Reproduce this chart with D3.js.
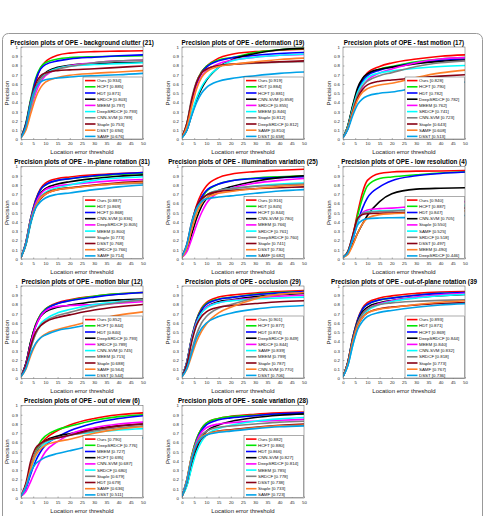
<!DOCTYPE html>
<html lang="en">
<head>
  <meta charset="UTF-8">
  <title>Precision plots of OPE</title>
  <script src="https://d3js.org/d3.v7.min.js"></script>
  <style>
    body { margin: 0; background: #fff; }
    svg text { font-family: "Liberation Sans", Arial, sans-serif; }
    .tick text { font-size: 4.3px; fill: #222; }
    .domain { display: none; }
    .tick line { stroke: #444; stroke-width: 0.4; }
  </style>
</head>
<body>
  <script>
    var thresholds = [0, 2, 4, 6, 8, 10, 15, 20, 30, 40, 50];

    // OTB rank colours
    var rankColors = ["#ff0000", "#00e600", "#0000ff", "#000000", "#ff00ff",
                      "#00ffff", "#808080", "#880015", "#ff7f27", "#00a2e8"];

    var panelTitles = [
      "Precision plots of OPE - background clutter (21)",
      "Precision plots of OPE - deformation (19)",
      "Precision plots of OPE - fast motion (17)",
      "Precision plots of OPE - in-plane rotation (31)",
      "Precision plots of OPE - illumination variation (25)",
      "Precision plots of OPE - low resolution (4)",
      "Precision plots of OPE - motion blur (12)",
      "Precision plots of OPE - occlusion (29)",
      "Precision plots of OPE - out-of-plane rotation (39",
      "Precision plots of OPE - out of view (6)",
      "Precision plots of OPE - scale variation (28)"
    ];

    // background clutter
    var clutterNames = ["Ours", "HCFT", "HDT", "SRDCF", "MEEM", "DeepSRDCF", "CNN-SVM", "Staple", "DSST", "SAMF"];
    var clutterScores = [0.934, 0.885, 0.871, 0.803, 0.797, 0.793, 0.789, 0.753, 0.694, 0.676];
    var clutterCurves = [
      [0.02, 0.16, 0.40, 0.62, 0.77, 0.84, 0.91, 0.934, 0.95, 0.955, 0.96],
      [0.02, 0.18, 0.44, 0.66, 0.78, 0.83, 0.87, 0.885, 0.895, 0.90, 0.905],
      [0.02, 0.17, 0.42, 0.64, 0.76, 0.81, 0.85, 0.871, 0.89, 0.905, 0.915],
      [0.02, 0.14, 0.36, 0.55, 0.66, 0.72, 0.78, 0.803, 0.82, 0.83, 0.835],
      [0.02, 0.12, 0.32, 0.50, 0.62, 0.69, 0.76, 0.797, 0.83, 0.85, 0.86],
      [0.02, 0.13, 0.35, 0.54, 0.65, 0.71, 0.77, 0.793, 0.81, 0.82, 0.83],
      [0.02, 0.14, 0.36, 0.55, 0.65, 0.70, 0.76, 0.789, 0.83, 0.85, 0.86],
      [0.02, 0.16, 0.42, 0.60, 0.69, 0.72, 0.745, 0.753, 0.765, 0.78, 0.795],
      [0.02, 0.10, 0.28, 0.45, 0.56, 0.62, 0.67, 0.694, 0.715, 0.73, 0.745],
      [0.02, 0.14, 0.40, 0.56, 0.62, 0.645, 0.665, 0.676, 0.69, 0.70, 0.715]
    ];

    // deformation
    var deformNames = ["Ours", "HDT", "HCFT", "CNN-SVM", "SRDCF", "MEEM", "Staple", "DeepSRDCF", "SAMF", "DSST"];
    var deformScores = [0.919, 0.884, 0.881, 0.858, 0.855, 0.846, 0.812, 0.812, 0.810, 0.658];
    var deformCurves = [
      [0.02, 0.165, 0.41, 0.61, 0.73, 0.79, 0.88, 0.919, 0.95, 0.965, 0.975],
      [0.02, 0.17, 0.42, 0.62, 0.73, 0.79, 0.86, 0.884, 0.94, 0.97, 0.985],
      [0.02, 0.16, 0.40, 0.60, 0.72, 0.78, 0.85, 0.881, 0.91, 0.93, 0.94],
      [0.02, 0.10, 0.27, 0.43, 0.55, 0.64, 0.78, 0.858, 0.93, 0.97, 0.985],
      [0.02, 0.15, 0.38, 0.57, 0.68, 0.74, 0.82, 0.855, 0.89, 0.91, 0.92],
      [0.02, 0.11, 0.29, 0.45, 0.57, 0.65, 0.78, 0.846, 0.89, 0.91, 0.925],
      [0.03, 0.18, 0.45, 0.63, 0.72, 0.76, 0.80, 0.812, 0.825, 0.835, 0.84],
      [0.03, 0.17, 0.43, 0.62, 0.72, 0.76, 0.80, 0.812, 0.83, 0.84, 0.85],
      [0.02, 0.14, 0.36, 0.55, 0.67, 0.73, 0.79, 0.810, 0.84, 0.865, 0.88],
      [0.02, 0.10, 0.26, 0.40, 0.50, 0.56, 0.63, 0.658, 0.69, 0.715, 0.73]
    ];

    // fast motion
    var fastNames = ["Ours", "HCFT", "HDT", "DeepSRDCF", "MEEM", "SRDCF", "CNN-SVM", "Staple", "SAMF", "DSST"];
    var fastScores = [0.828, 0.790, 0.782, 0.782, 0.762, 0.741, 0.723, 0.643, 0.608, 0.513];
    var fastCurves = [
      [0.02, 0.14, 0.35, 0.53, 0.65, 0.72, 0.79, 0.828, 0.87, 0.90, 0.915],
      [0.02, 0.15, 0.36, 0.54, 0.64, 0.70, 0.76, 0.790, 0.84, 0.87, 0.885],
      [0.02, 0.14, 0.35, 0.53, 0.63, 0.69, 0.75, 0.782, 0.83, 0.855, 0.87],
      [0.02, 0.15, 0.37, 0.56, 0.66, 0.71, 0.76, 0.782, 0.82, 0.845, 0.86],
      [0.02, 0.12, 0.30, 0.46, 0.57, 0.64, 0.72, 0.762, 0.83, 0.87, 0.885],
      [0.02, 0.14, 0.34, 0.51, 0.61, 0.67, 0.72, 0.741, 0.77, 0.79, 0.80],
      [0.02, 0.13, 0.32, 0.48, 0.58, 0.63, 0.69, 0.723, 0.79, 0.83, 0.85],
      [0.02, 0.12, 0.30, 0.45, 0.54, 0.59, 0.63, 0.643, 0.665, 0.685, 0.70],
      [0.02, 0.12, 0.29, 0.43, 0.51, 0.55, 0.59, 0.608, 0.67, 0.72, 0.75],
      [0.02, 0.11, 0.26, 0.38, 0.44, 0.47, 0.50, 0.513, 0.56, 0.60, 0.62]
    ];

    // in-plane rotation
    var inPlaneNames = ["Ours", "HDT", "HCFT", "CNN-SVM", "DeepSRDCF", "MEEM", "Staple", "DSST", "SRDCF", "SAMF"];
    var inPlaneScores = [0.887, 0.869, 0.868, 0.836, 0.805, 0.800, 0.773, 0.768, 0.766, 0.714];
    var inPlaneCurves = [
      [0.02, 0.18, 0.44, 0.64, 0.76, 0.82, 0.87, 0.887, 0.91, 0.925, 0.935],
      [0.02, 0.18, 0.44, 0.63, 0.75, 0.80, 0.85, 0.869, 0.895, 0.915, 0.925],
      [0.02, 0.18, 0.44, 0.63, 0.75, 0.80, 0.85, 0.868, 0.90, 0.92, 0.935],
      [0.02, 0.16, 0.40, 0.59, 0.71, 0.76, 0.81, 0.836, 0.87, 0.895, 0.91],
      [0.02, 0.17, 0.42, 0.60, 0.70, 0.75, 0.79, 0.805, 0.83, 0.85, 0.86],
      [0.02, 0.15, 0.38, 0.56, 0.67, 0.72, 0.77, 0.800, 0.85, 0.875, 0.89],
      [0.02, 0.17, 0.42, 0.58, 0.67, 0.71, 0.755, 0.773, 0.795, 0.81, 0.82],
      [0.02, 0.16, 0.40, 0.56, 0.65, 0.70, 0.75, 0.768, 0.80, 0.825, 0.84],
      [0.02, 0.16, 0.41, 0.57, 0.66, 0.70, 0.75, 0.766, 0.795, 0.815, 0.83],
      [0.02, 0.16, 0.40, 0.55, 0.62, 0.66, 0.70, 0.714, 0.75, 0.78, 0.80]
    ];

    // illumination variation
    var illumNames = ["Ours", "HDT", "HCFT", "CNN-SVM", "MEEM", "SRDCF", "DeepSRDCF", "Staple", "DSST", "SAMF"];
    var illumScores = [0.916, 0.845, 0.844, 0.780, 0.766, 0.761, 0.760, 0.741, 0.730, 0.682];
    var illumCurves = [
      [0.02, 0.15, 0.38, 0.58, 0.71, 0.79, 0.88, 0.916, 0.945, 0.96, 0.97],
      [0.02, 0.14, 0.36, 0.54, 0.66, 0.73, 0.81, 0.845, 0.875, 0.89, 0.90],
      [0.02, 0.14, 0.36, 0.55, 0.67, 0.74, 0.81, 0.844, 0.87, 0.88, 0.89],
      [0.02, 0.10, 0.27, 0.44, 0.57, 0.65, 0.74, 0.780, 0.84, 0.88, 0.90],
      [0.02, 0.08, 0.22, 0.37, 0.50, 0.60, 0.72, 0.766, 0.82, 0.85, 0.87],
      [0.02, 0.13, 0.35, 0.52, 0.63, 0.69, 0.74, 0.761, 0.79, 0.81, 0.82],
      [0.02, 0.14, 0.37, 0.54, 0.64, 0.69, 0.74, 0.760, 0.785, 0.80, 0.81],
      [0.03, 0.16, 0.40, 0.57, 0.65, 0.69, 0.73, 0.741, 0.76, 0.77, 0.78],
      [0.02, 0.12, 0.32, 0.49, 0.60, 0.66, 0.71, 0.730, 0.76, 0.785, 0.80],
      [0.03, 0.16, 0.40, 0.55, 0.62, 0.65, 0.67, 0.682, 0.71, 0.735, 0.75]
    ];

    // low resolution
    var lowResNames = ["Ours", "HCFT", "HDT", "CNN-SVM", "Staple", "SAMF", "SRDCF", "DSST", "MEEM", "DeepSRDCF"];
    var lowResScores = [0.940, 0.887, 0.847, 0.705, 0.550, 0.525, 0.518, 0.497, 0.490, 0.446];
    var lowResCurves = [
      [0.02, 0.08, 0.25, 0.50, 0.72, 0.85, 0.925, 0.940, 0.95, 0.952, 0.955],
      [0.02, 0.08, 0.24, 0.47, 0.66, 0.79, 0.87, 0.887, 0.91, 0.93, 0.94],
      [0.02, 0.07, 0.21, 0.40, 0.55, 0.66, 0.78, 0.847, 0.90, 0.925, 0.94],
      [0.02, 0.06, 0.16, 0.28, 0.38, 0.47, 0.62, 0.705, 0.755, 0.765, 0.77],
      [0.02, 0.07, 0.22, 0.40, 0.50, 0.53, 0.545, 0.550, 0.57, 0.60, 0.62],
      [0.02, 0.07, 0.22, 0.40, 0.49, 0.51, 0.52, 0.525, 0.54, 0.565, 0.58],
      [0.02, 0.08, 0.25, 0.43, 0.49, 0.505, 0.513, 0.518, 0.53, 0.545, 0.56],
      [0.02, 0.08, 0.26, 0.44, 0.48, 0.49, 0.495, 0.497, 0.51, 0.535, 0.55],
      [0.02, 0.05, 0.15, 0.28, 0.38, 0.44, 0.48, 0.490, 0.50, 0.51, 0.52],
      [0.02, 0.07, 0.22, 0.37, 0.42, 0.435, 0.443, 0.446, 0.45, 0.46, 0.47]
    ];

    // motion blur
    var blurNames = ["Ours", "HCFT", "HDT", "DeepSRDCF", "SRDCF", "CNN-SVM", "MEEM", "Staple", "SAMF", "DSST"];
    var blurScores = [0.852, 0.844, 0.840, 0.793, 0.789, 0.745, 0.715, 0.688, 0.564, 0.544];
    var blurCurves = [
      [0.02, 0.16, 0.39, 0.58, 0.69, 0.75, 0.82, 0.852, 0.89, 0.915, 0.93],
      [0.02, 0.16, 0.40, 0.58, 0.69, 0.75, 0.81, 0.844, 0.89, 0.915, 0.93],
      [0.02, 0.16, 0.39, 0.57, 0.68, 0.74, 0.81, 0.840, 0.88, 0.91, 0.93],
      [0.02, 0.16, 0.40, 0.57, 0.67, 0.72, 0.77, 0.793, 0.83, 0.85, 0.86],
      [0.02, 0.15, 0.38, 0.56, 0.67, 0.73, 0.78, 0.789, 0.80, 0.815, 0.83],
      [0.02, 0.13, 0.33, 0.49, 0.59, 0.64, 0.71, 0.745, 0.80, 0.83, 0.85],
      [0.02, 0.13, 0.33, 0.48, 0.57, 0.62, 0.68, 0.715, 0.78, 0.82, 0.85],
      [0.02, 0.14, 0.35, 0.50, 0.57, 0.61, 0.66, 0.688, 0.74, 0.775, 0.80],
      [0.02, 0.10, 0.25, 0.37, 0.44, 0.48, 0.53, 0.564, 0.63, 0.685, 0.72],
      [0.02, 0.11, 0.27, 0.38, 0.44, 0.47, 0.52, 0.544, 0.59, 0.62, 0.64]
    ];

    // occlusion
    var occlNames = ["Ours", "HCFT", "HDT", "DeepSRDCF", "SRDCF", "SAMF", "MEEM", "Staple", "CNN-SVM", "DSST"];
    var occlScores = [0.901, 0.877, 0.874, 0.849, 0.844, 0.839, 0.799, 0.787, 0.770, 0.706];
    var occlCurves = [
      [0.02, 0.18, 0.44, 0.64, 0.76, 0.82, 0.88, 0.901, 0.925, 0.94, 0.95],
      [0.02, 0.18, 0.45, 0.64, 0.75, 0.81, 0.86, 0.877, 0.91, 0.93, 0.94],
      [0.02, 0.18, 0.44, 0.63, 0.74, 0.80, 0.855, 0.874, 0.905, 0.925, 0.94],
      [0.02, 0.17, 0.43, 0.61, 0.72, 0.77, 0.83, 0.849, 0.885, 0.905, 0.92],
      [0.02, 0.17, 0.43, 0.61, 0.71, 0.77, 0.82, 0.844, 0.87, 0.89, 0.90],
      [0.02, 0.17, 0.42, 0.60, 0.71, 0.76, 0.82, 0.839, 0.86, 0.87, 0.88],
      [0.02, 0.12, 0.31, 0.48, 0.60, 0.67, 0.76, 0.799, 0.87, 0.91, 0.93],
      [0.02, 0.16, 0.40, 0.58, 0.67, 0.72, 0.77, 0.787, 0.81, 0.83, 0.84],
      [0.02, 0.10, 0.25, 0.40, 0.51, 0.59, 0.71, 0.770, 0.86, 0.91, 0.93],
      [0.02, 0.11, 0.28, 0.44, 0.54, 0.60, 0.67, 0.706, 0.75, 0.775, 0.79]
    ];

    // out-of-plane rotation
    var outPlaneNames = ["Ours", "HDT", "HCFT", "DeepSRDCF", "MEEM", "CNN-SVM", "SRDCF", "Staple", "SAMF", "DSST"];
    var outPlaneScores = [0.893, 0.871, 0.869, 0.844, 0.840, 0.832, 0.818, 0.773, 0.767, 0.736];
    var outPlaneCurves = [
      [0.02, 0.18, 0.44, 0.64, 0.76, 0.82, 0.87, 0.893, 0.92, 0.935, 0.94],
      [0.02, 0.18, 0.44, 0.63, 0.75, 0.80, 0.85, 0.871, 0.90, 0.92, 0.93],
      [0.02, 0.18, 0.44, 0.63, 0.75, 0.80, 0.85, 0.869, 0.90, 0.92, 0.93],
      [0.02, 0.17, 0.42, 0.61, 0.72, 0.77, 0.82, 0.844, 0.875, 0.895, 0.91],
      [0.02, 0.15, 0.38, 0.57, 0.69, 0.75, 0.81, 0.840, 0.88, 0.905, 0.92],
      [0.02, 0.14, 0.36, 0.55, 0.67, 0.73, 0.80, 0.832, 0.87, 0.895, 0.91],
      [0.02, 0.17, 0.42, 0.60, 0.70, 0.75, 0.80, 0.818, 0.835, 0.845, 0.85],
      [0.02, 0.16, 0.40, 0.57, 0.66, 0.71, 0.755, 0.773, 0.795, 0.81, 0.82],
      [0.02, 0.16, 0.40, 0.57, 0.66, 0.71, 0.75, 0.767, 0.80, 0.825, 0.84],
      [0.02, 0.14, 0.36, 0.53, 0.62, 0.67, 0.715, 0.736, 0.77, 0.795, 0.81]
    ];

    // out of view
    var outViewNames = ["Ours", "DeepSRDCF", "MEEM", "HCFT", "CNN-SVM", "SRDCF", "Staple", "HDT", "SAMF", "DSST"];
    var outViewScores = [0.790, 0.776, 0.727, 0.695, 0.687, 0.680, 0.679, 0.679, 0.636, 0.511];
    var outViewCurves = [
      [0.02, 0.13, 0.32, 0.48, 0.58, 0.64, 0.73, 0.790, 0.86, 0.90, 0.92],
      [0.02, 0.13, 0.33, 0.50, 0.61, 0.67, 0.74, 0.776, 0.84, 0.88, 0.90],
      [0.02, 0.10, 0.26, 0.40, 0.50, 0.57, 0.66, 0.727, 0.81, 0.86, 0.89],
      [0.02, 0.14, 0.33, 0.48, 0.57, 0.62, 0.67, 0.695, 0.745, 0.78, 0.80],
      [0.02, 0.07, 0.18, 0.30, 0.41, 0.50, 0.61, 0.687, 0.76, 0.80, 0.82],
      [0.02, 0.12, 0.30, 0.45, 0.54, 0.59, 0.65, 0.680, 0.71, 0.735, 0.75],
      [0.02, 0.14, 0.34, 0.49, 0.57, 0.61, 0.65, 0.679, 0.725, 0.76, 0.78],
      [0.02, 0.16, 0.40, 0.54, 0.59, 0.62, 0.65, 0.679, 0.74, 0.78, 0.80],
      [0.02, 0.13, 0.32, 0.46, 0.53, 0.57, 0.61, 0.636, 0.70, 0.745, 0.77],
      [0.02, 0.12, 0.28, 0.37, 0.41, 0.44, 0.48, 0.511, 0.57, 0.62, 0.65]
    ];

    // scale variation
    var scaleNames = ["Ours", "HCFT", "HDT", "CNN-SVM", "DeepSRDCF", "MEEM", "SRDCF", "DSST", "Staple", "SAMF"];
    var scaleScores = [0.882, 0.880, 0.866, 0.827, 0.814, 0.785, 0.778, 0.738, 0.733, 0.723];
    var scaleCurves = [
      [0.02, 0.20, 0.46, 0.64, 0.75, 0.81, 0.86, 0.882, 0.905, 0.92, 0.93],
      [0.02, 0.20, 0.46, 0.64, 0.75, 0.81, 0.86, 0.880, 0.895, 0.905, 0.91],
      [0.02, 0.19, 0.44, 0.62, 0.73, 0.79, 0.845, 0.866, 0.89, 0.91, 0.92],
      [0.02, 0.14, 0.35, 0.53, 0.65, 0.72, 0.79, 0.827, 0.87, 0.895, 0.91],
      [0.02, 0.19, 0.44, 0.61, 0.71, 0.76, 0.80, 0.814, 0.83, 0.84, 0.85],
      [0.02, 0.13, 0.33, 0.50, 0.61, 0.68, 0.75, 0.785, 0.83, 0.855, 0.87],
      [0.02, 0.18, 0.43, 0.59, 0.68, 0.72, 0.765, 0.778, 0.80, 0.82, 0.83],
      [0.02, 0.17, 0.41, 0.56, 0.64, 0.68, 0.725, 0.738, 0.765, 0.785, 0.80],
      [0.02, 0.19, 0.45, 0.59, 0.66, 0.69, 0.72, 0.733, 0.76, 0.78, 0.79],
      [0.02, 0.18, 0.43, 0.58, 0.65, 0.68, 0.71, 0.723, 0.75, 0.77, 0.78]
    ];

    var panels = [
      [clutterNames, clutterScores, clutterCurves],
      [deformNames, deformScores, deformCurves],
      [fastNames, fastScores, fastCurves],
      [inPlaneNames, inPlaneScores, inPlaneCurves],
      [illumNames, illumScores, illumCurves],
      [lowResNames, lowResScores, lowResCurves],
      [blurNames, blurScores, blurCurves],
      [occlNames, occlScores, occlCurves],
      [outPlaneNames, outPlaneScores, outPlaneCurves],
      [outViewNames, outViewScores, outViewCurves],
      [scaleNames, scaleScores, scaleCurves]
    ];

    var w = 485, h = 516;
    var colX = [21, 182, 343];
    var rowY = [47, 166.5, 286, 405.5];
    var pw = 122, ph = 92.5;

    var svg = d3.select("body").append("svg")
      .attr("width", w)
      .attr("height", h);

    // outer frame
    svg.append("rect")
      .attr("x", 2.5).attr("y", 33.5)
      .attr("width", 480).attr("height", 520)
      .attr("rx", 6)
      .attr("fill", "none")
      .attr("stroke", "#999")
      .attr("stroke-width", 1);

    var x = d3.scaleLinear().domain([0, 50]).range([0, pw]);
    var y = d3.scaleLinear().domain([0, 1]).range([ph, 0]);

    var line = d3.line()
      .x(function(d) { return x(d[0]); })
      .y(function(d) { return y(d[1]); })
      .curve(d3.curveMonotoneX);

    panels.forEach(function(p, i) {
      var names = p[0], scores = p[1], curves = p[2];
      var g = svg.append("g")
        .attr("transform", "translate(" + colX[i % 3] + "," + rowY[Math.floor(i / 3)] + ")");

      g.append("clipPath").attr("id", "clip" + i)
        .append("rect").attr("width", pw).attr("height", ph);

      // title
      g.append("text")
        .attr("x", pw / 2).attr("y", -2.5)
        .attr("text-anchor", "middle")
        .attr("font-size", 6.3)
        .attr("font-weight", "bold")
        .text(panelTitles[i]);

      // axes
      g.append("g")
        .attr("transform", "translate(0," + ph + ")")
        .call(d3.axisBottom(x).tickValues(d3.range(0, 51, 5))
          .tickSizeInner(-1.5).tickSizeOuter(0).tickPadding(2.5));
      g.append("g")
        .call(d3.axisLeft(y).ticks(10).tickFormat(d3.format("~g"))
          .tickSizeInner(-1.5).tickSizeOuter(0).tickPadding(3));

      g.append("text")
        .attr("x", pw / 2).attr("y", ph + 14.5)
        .attr("text-anchor", "middle")
        .attr("font-size", 6)
        .attr("fill", "#222")
        .text("Location error threshold");
      g.append("text")
        .attr("transform", "translate(-12.5," + (ph / 2) + ") rotate(-90)")
        .attr("text-anchor", "middle")
        .attr("font-size", 6)
        .attr("fill", "#222")
        .text("Precision");

      // curves
      g.append("g").attr("clip-path", "url(#clip" + i + ")")
        .selectAll("path")
        .data(curves)
        .enter()
        .append("path")
        .attr("d", function(c) { return line(c.map(function(v, k) { return [thresholds[k], v]; })); })
        .attr("fill", "none")
        .attr("stroke", function(c, k) { return rankColors[k]; })
        .attr("stroke-width", 1.6);

      // plot box
      g.append("rect")
        .attr("width", pw).attr("height", ph)
        .attr("fill", "none")
        .attr("stroke", "#555")
        .attr("stroke-width", 0.5);

      // legend
      var lx = pw - 60, ly = 30, lh = ph - 30.5;
      var lg = g.append("g").attr("transform", "translate(" + lx + "," + ly + ")");
      lg.append("rect")
        .attr("width", 59.5).attr("height", lh)
        .attr("fill", "#fff")
        .attr("stroke", "#333")
        .attr("stroke-width", 0.4);
      var rows = lg.selectAll("g.row")
        .data(names)
        .enter()
        .append("g")
        .attr("class", "row")
        .attr("transform", function(d, k) { return "translate(0," + (3.6 + k * 6.2) + ")"; });
      rows.append("line")
        .attr("x1", 2).attr("x2", 12.5)
        .attr("stroke", function(d, k) { return rankColors[k]; })
        .attr("stroke-width", 1.6);
      rows.append("text")
        .attr("x", 14).attr("dy", "0.35em")
        .attr("font-size", 4.4)
        .attr("fill", "#111")
        .text(function(d, k) { return d + " [" + scores[k].toFixed(3) + "]"; });
    });
  </script>
</body>
</html>
